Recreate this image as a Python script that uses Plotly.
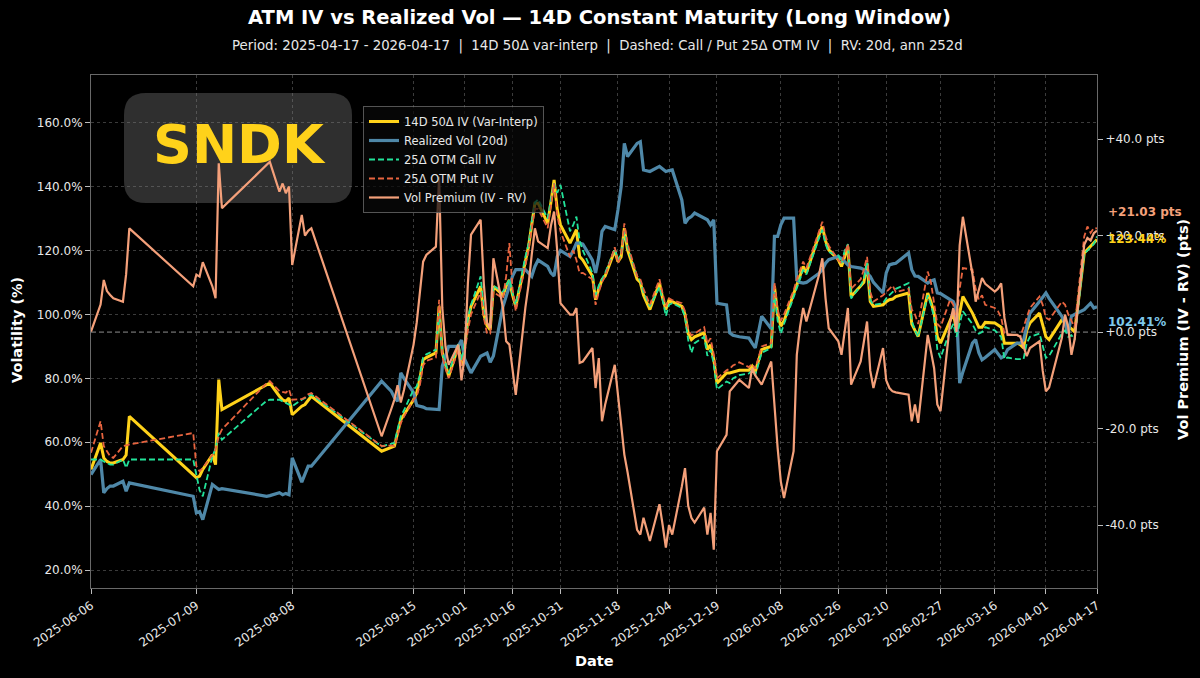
import plotly.graph_objects as go

# ---------------- data ----------------
dates = [
    "2025-06-06", "2025-06-09", "2025-06-10", "2025-06-11", "2025-06-12", "2025-06-13",
    "2025-06-16", "2025-06-17", "2025-06-18", "2025-07-08", "2025-07-09", "2025-07-10",
    "2025-07-11", "2025-07-14", "2025-07-15", "2025-07-16", "2025-07-17", "2025-07-31",
    "2025-08-01", "2025-08-04", "2025-08-05", "2025-08-06", "2025-08-07", "2025-08-08",
    "2025-08-11", "2025-08-12", "2025-08-13", "2025-08-14", "2025-09-05", "2025-09-08",
    "2025-09-09", "2025-09-10", "2025-09-11", "2025-09-12", "2025-09-15",
    "2025-09-16", "2025-09-17", "2025-09-18", "2025-09-19", "2025-09-22", "2025-09-23",
    "2025-09-24", "2025-09-25", "2025-09-26", "2025-09-29", "2025-09-30",
    "2025-10-01", "2025-10-02", "2025-10-03", "2025-10-06", "2025-10-07", "2025-10-08",
    "2025-10-09", "2025-10-10", "2025-10-13", "2025-10-14", "2025-10-15", "2025-10-16",
    "2025-10-17", "2025-10-20", "2025-10-21", "2025-10-22", "2025-10-23", "2025-10-24",
    "2025-10-27", "2025-10-28", "2025-10-29", "2025-10-30", "2025-10-31",
    "2025-11-03", "2025-11-04", "2025-11-05", "2025-11-06", "2025-11-07", "2025-11-10",
    "2025-11-11", "2025-11-12", "2025-11-13", "2025-11-14", "2025-11-17", "2025-11-18",
    "2025-11-19", "2025-11-20", "2025-11-21", "2025-11-24", "2025-11-25", "2025-11-26",
    "2025-11-28",
    "2025-12-01", "2025-12-02", "2025-12-03", "2025-12-04", "2025-12-05", "2025-12-08",
    "2025-12-09", "2025-12-10", "2025-12-11", "2025-12-12", "2025-12-15", "2025-12-16",
    "2025-12-17", "2025-12-18", "2025-12-19", "2025-12-22", "2025-12-23", "2025-12-24",
    "2025-12-26", "2025-12-29", "2025-12-30", "2025-12-31",
    "2026-01-02", "2026-01-05", "2026-01-06", "2026-01-07", "2026-01-08", "2026-01-09",
    "2026-01-12", "2026-01-13", "2026-01-14", "2026-01-15", "2026-01-16", "2026-01-20",
    "2026-01-21", "2026-01-22", "2026-01-23", "2026-01-26", "2026-01-27", "2026-01-28",
    "2026-01-29", "2026-01-30",
    "2026-02-02", "2026-02-03", "2026-02-04", "2026-02-05", "2026-02-06", "2026-02-09",
    "2026-02-10", "2026-02-11", "2026-02-12", "2026-02-13", "2026-02-17", "2026-02-18",
    "2026-02-19", "2026-02-20", "2026-02-23", "2026-02-24", "2026-02-25", "2026-02-26",
    "2026-02-27",
    "2026-03-02", "2026-03-03", "2026-03-04", "2026-03-05", "2026-03-06", "2026-03-09",
    "2026-03-10", "2026-03-11", "2026-03-12", "2026-03-13", "2026-03-16", "2026-03-17",
    "2026-03-18", "2026-03-19", "2026-03-20", "2026-03-23", "2026-03-24", "2026-03-25",
    "2026-03-26", "2026-03-27", "2026-03-30", "2026-03-31",
    "2026-04-01", "2026-04-02", "2026-04-06", "2026-04-07", "2026-04-08", "2026-04-09",
    "2026-04-10", "2026-04-13", "2026-04-14", "2026-04-15", "2026-04-16", "2026-04-17",
]

iv_atm = [
    51.5, 59.8, 55.1, 54.0, 53.5, 53.5, 54.6, 56.0, 68.1, 50.0, 48.9, 49.4,
    51.5, 56.1, 53.0, 79.6, 70.2, 78.0, 78.5, 74.4, 73.3, 72.8, 73.8, 68.6,
    71.3, 71.8, 73.3, 74.4, 57.2, 58.3, 58.8, 62.9, 67.1, 68.6, 73.3,
    75.5, 80.0, 85.8, 86.5, 88.0, 102.5, 88.0, 84.0, 80.6, 90.0, 84.0,
    90.0, 98.0, 102.5, 108.8, 100.0, 96.5, 95.2, 108.8, 106.0, 108.8, 110.8, 106.0,
    102.5, 117.0, 121.2, 128.0, 134.8, 134.8, 128.5, 135.0, 142.1, 132.7, 128.0,
    122.3, 124.5, 126.5, 118.1, 117.0, 112.0, 104.6, 108.0, 110.8, 112.0, 120.0, 116.5,
    118.0, 127.0, 120.2, 111.0, 110.0, 106.0, 101.5,
    109.8, 105.0, 101.5, 104.6, 104.0, 102.5, 100.0, 94.0, 92.1, 93.0, 94.2, 89.0,
    90.5, 86.0, 78.5, 81.7, 81.7, 82.0, 82.5, 82.5, 83.8, 82.0,
    89.0, 90.0, 108.8, 100.0, 96.3, 98.0, 106.0, 108.8, 112.0, 115.0, 113.0, 125.0,
    127.5, 123.0, 120.2, 117.1, 115.0, 118.0, 121.2, 105.6,
    108.8, 110.0, 116.0, 104.0, 102.5, 103.0, 104.0, 104.6, 104.8, 105.6, 106.7, 97.0,
    95.0, 93.1, 106.7, 104.0, 100.4, 93.0, 91.0,
    98.0, 100.4, 95.2, 100.0, 105.6, 100.4, 98.0, 96.0, 96.0, 97.5, 97.3, 96.5,
    96.0, 91.0, 91.0, 91.0, 90.5, 89.5, 95.0, 97.3, 100.4, 97.0,
    93.0, 92.1, 98.3, 97.5, 96.3, 95.5, 94.5, 119.2, 120.2, 121.5, 122.5, 123.44,
]

rv_20d = [
    49.9, 54.6, 44.2, 45.5, 46.3, 46.3, 47.8, 44.7, 47.3, 43.1, 37.9, 38.3,
    35.8, 46.8, 46.0, 45.2, 45.5, 43.1, 43.3, 44.2, 43.6, 44.0, 43.6, 55.1,
    47.5, 50.0, 52.5, 52.5, 79.1, 76.0, 74.0, 72.8, 81.7, 80.0, 75.5,
    71.5, 71.3, 71.0, 70.5, 70.2, 70.2, 83.8, 87.0, 90.0, 90.0, 92.0,
    86.0, 83.8, 81.7, 86.9, 87.5, 87.9, 85.0, 87.0, 102.5, 106.0, 108.8, 112.0,
    114.0, 114.0, 113.0, 111.9, 115.0, 117.0, 115.0, 113.0, 112.0, 118.1, 120.0,
    118.1, 120.0, 122.3, 122.3, 122.0, 117.0, 113.0, 118.0, 126.0, 127.5, 126.5, 132.7,
    140.0, 153.5, 149.4, 153.5, 154.0, 145.2, 144.7,
    146.3, 145.5, 144.7, 145.0, 145.2, 135.8, 128.5, 130.0, 130.6, 131.7, 130.0, 129.6,
    128.0, 129.6, 103.5, 103.0, 94.2, 93.5, 93.0, 92.6, 91.0, 89.5,
    99.4, 95.5, 124.4, 124.4, 128.0, 130.1, 130.1, 110.8, 110.0, 109.8, 110.0, 112.9,
    114.0, 116.0, 117.1, 118.1, 117.5, 116.5, 115.5, 115.0,
    114.5, 114.0, 113.0, 111.9, 110.0, 106.7, 113.0, 115.5, 115.8, 116.0, 119.2, 114.0,
    112.0, 111.9, 109.8, 110.5, 110.8, 106.7, 106.5,
    104.8, 104.0, 101.5, 78.5, 82.0, 91.0, 92.1, 88.0, 85.8, 86.5, 89.0, 87.5,
    86.4, 87.0, 89.0, 91.0, 91.0, 92.0, 96.0, 100.4, 104.0, 105.5,
    106.7, 105.0, 99.4, 97.0, 94.2, 99.4, 100.0, 101.5, 102.5, 103.5, 102.0, 102.41,
]

call_25d = [
    54.6, 54.6, 54.0, 53.5, 53.0, 53.0, 54.6, 52.0, 54.6, 54.6, 49.4, 45.0,
    43.1, 55.6, 58.0, 62.9, 60.8, 73.0, 73.3, 73.3, 72.8, 72.3, 72.0, 71.3,
    73.3, 73.8, 74.4, 74.9, 58.7, 59.4, 59.8, 64.0, 68.1, 70.0, 76.5,
    77.5, 81.0, 86.5, 87.5, 89.0, 100.4, 88.0, 84.5, 81.5, 91.0, 85.5,
    91.0, 98.5, 103.0, 111.9, 101.0, 97.0, 96.0, 109.0, 107.0, 109.0, 111.0, 106.5,
    103.0, 118.0, 122.0, 129.0, 135.0, 136.0, 130.0, 136.0, 141.0, 138.0, 140.5,
    126.0, 128.0, 130.6, 123.0, 120.0, 113.0, 106.0, 109.0, 111.0, 113.0, 120.5, 117.0,
    119.0, 126.0, 121.0, 112.0, 110.5, 107.0, 102.5,
    108.5, 104.5, 99.5, 103.0, 103.5, 102.0, 99.0, 92.0, 88.0, 91.0, 93.0, 87.0,
    89.0, 84.5, 76.5, 79.0, 78.5, 80.0, 81.0, 81.5, 82.5, 81.0,
    88.0, 89.5, 107.0, 98.0, 94.0, 97.0, 105.0, 108.0, 111.0, 114.0, 112.5, 124.0,
    126.5, 122.0, 119.5, 118.5, 116.0, 120.0, 122.0, 105.0,
    109.0, 111.0, 116.5, 104.5, 103.0, 103.5, 105.0, 106.0, 107.0, 108.0, 109.8, 98.0,
    95.0, 93.0, 106.0, 103.0, 99.0, 89.0, 86.4,
    95.0, 97.0, 93.0, 97.0, 101.0, 97.0, 95.0, 94.0, 94.5, 96.0, 95.0, 94.0,
    93.0, 86.0, 86.5, 86.0, 86.0, 86.0, 91.0, 93.0, 94.0, 90.0,
    86.4, 87.0, 94.0, 95.0, 93.0, 93.5, 92.0, 119.0, 120.0, 121.0, 122.0, 124.4,
]

put_25d = [
    56.7, 66.6, 58.8, 57.0, 55.6, 55.1, 58.8, 59.0, 59.3, 62.9, 52.5, 50.9,
    52.0, 56.0, 57.7, 61.9, 64.0, 78.5, 79.1, 76.0, 75.8, 75.5, 76.5, 73.3,
    73.5, 74.0, 75.0, 75.4, 58.8, 59.0, 58.8, 62.0, 66.0, 68.0, 73.3,
    74.5, 78.0, 84.0, 85.5, 86.5, 104.6, 87.0, 83.0, 80.0, 89.0, 84.0,
    88.0, 95.0, 100.0, 107.0, 99.0, 94.0, 94.0, 107.0, 105.0, 112.0, 122.3, 108.0,
    101.0, 116.0, 120.0, 127.0, 133.0, 133.0, 127.0, 134.0, 141.0, 131.0, 126.0,
    118.0, 120.0, 117.0, 112.9, 113.0, 111.0, 103.0, 107.0, 110.0, 112.0, 121.0, 116.0,
    118.5, 128.5, 122.0, 112.0, 111.0, 108.0, 103.0,
    111.0, 106.5, 102.5, 105.0, 104.5, 103.5, 101.0, 95.0, 93.5, 94.0, 96.0, 91.0,
    92.5, 87.5, 80.0, 82.5, 83.0, 84.0, 85.0, 83.5, 84.5, 83.0,
    90.0, 91.0, 110.0, 101.5, 98.0, 100.0, 107.5, 111.0, 114.0, 116.5, 114.5, 126.0,
    129.0, 124.5, 121.5, 117.0, 116.0, 119.0, 122.0, 108.0,
    111.0, 114.0, 118.0, 107.0, 104.0, 106.0, 107.0, 108.0, 109.0, 107.0, 108.0, 101.5,
    100.0, 97.0, 113.4, 110.0, 104.0, 97.0, 96.0,
    104.6, 103.0, 98.0, 108.0, 114.5, 114.0, 108.0, 104.6, 106.0, 103.0, 102.0, 101.0,
    99.0, 94.0, 93.8, 93.5, 93.0, 96.0, 99.0, 102.0, 105.6, 103.0,
    99.0, 98.3, 104.0, 103.0, 100.0, 98.0, 96.0, 124.4, 127.5, 125.5, 127.0, 126.9,
]

vol_premium = [
    0.1, 5.7, 10.8, 8.5, 7.7, 7.0, 6.3, 12.0, 21.5, 9.5, 11.9, 11.5,
    14.5, 9.5, 7.0, 35.0, 25.7, 34.5, 35.3, 29.1, 30.8, 28.8, 30.2, 13.9,
    24.3, 20.0, 21.0, 21.5, -21.6, -16.0, -14.0, -11.0, -14.6, -12.0, -2.6,
    2.0, 9.0, 14.6, 16.0, 17.7, 32.2, 5.0, -3.0, -6.8, -2.6, -10.0,
    -5.0, 10.0, 20.2, 23.3, 10.0, 2.0, 0.8, 15.3, 5.0, -1.9, -2.6, -8.0,
    -13.0, 5.0, 9.8, 16.0, 21.5, 18.8, 17.4, 22.0, 25.0, 16.7, 6.0,
    3.6, 3.6, 5.0, -6.4, -6.1, -3.3, -11.6, -5.4, -18.5, -15.0, -6.8, -13.0,
    -17.8, -25.4, -29.0, -41.0, -42.0, -38.5, -43.3,
    -35.7, -40.0, -44.7, -40.0, -42.0, -32.0, -28.2, -36.0, -38.5, -39.5, -36.4, -42.0,
    -37.5, -45.1, -24.7, -21.3, -12.3, -11.5, -9.9, -11.6, -7.5, -9.0,
    -10.9, -6.1, -16.0, -24.0, -31.0, -34.4, -24.7, -4.7, 1.0, 5.0, 2.2, 12.0,
    15.3, 7.0, 0.8, -1.9, -4.7, 0.0, 5.0, -10.9,
    -6.1, -2.0, 2.2, -8.0, -11.6, -3.3, -10.0, -11.6, -12.3, -12.5, -13.0, -18.5,
    -15.0, -18.8, -0.6, -4.0, -7.5, -15.0, -16.4,
    2.0, 5.0, 0.0, 18.0, 23.9, 12.0, 6.3, 8.5, 11.2, 10.0, 8.4, 9.0,
    10.1, 3.0, -0.6, -0.6, -1.0, -3.0, -5.0, -3.3, -1.9, -8.0,
    -12.3, -11.5, -1.2, 3.6, 1.0, -4.7, -1.5, 18.1, 19.5, 19.0, 20.5, 21.03,
]

tick_dates = [
    "2025-06-06", "2025-07-09", "2025-08-08", "2025-09-15", "2025-10-01", "2025-10-16",
    "2025-10-31", "2025-11-18", "2025-12-04", "2025-12-19", "2026-01-08", "2026-01-26",
    "2026-02-10", "2026-02-27", "2026-03-16", "2026-04-01", "2026-04-17",
]
vol_ticks = [20, 40, 60, 80, 100, 120, 140, 160]
prem_ticks = [-40, -20, 0, 20, 40]
vol_tick_text = [f"{v:.1f}%" for v in vol_ticks]
prem_tick_text = [f"{v:+.1f} pts" for v in prem_ticks]

ticker = "SNDK"
title_text = "ATM IV vs Realized Vol — 14D Constant Maturity (Long Window)"
subtitle_text = ("Period: 2025-04-17 - 2026-04-17  |  14D 50Δ var-interp  |  "
                 "Dashed: Call / Put 25Δ OTM IV  |  RV: 20d, ann 252d")

# ---------------- layout geometry ----------------
W, H = 1200, 678
L, R, T, B = 91, 1097, 75, 588
FONT = "DejaVu Sans"


def px(xp):
    return (xp - L) / (R - L)


def py(yp):
    return (B - yp) / (B - T)


C_IV = "#FFD21A"
C_RV = "#4F88A8"
C_CALL = "#22E39A"
C_PUT = "#E8643F"
C_PREM = "#F4A07A"
GRID = "rgba(130,130,130,0.45)"
SPINE = "rgba(150,150,150,0.7)"
TXT = "#E8E8E8"

fig = go.Figure()
fig.add_trace(go.Scatter(x=dates, y=iv_atm, name="14D 50Δ IV (Var-Interp)", mode="lines",
                         line=dict(color=C_IV, width=3)))
fig.add_trace(go.Scatter(x=dates, y=rv_20d, name="Realized Vol (20d)", mode="lines",
                         line=dict(color=C_RV, width=3.2)))
fig.add_trace(go.Scatter(x=dates, y=call_25d, name="25Δ OTM Call IV", mode="lines",
                         line=dict(color=C_CALL, width=1.8, dash="6px,3px")))
fig.add_trace(go.Scatter(x=dates, y=put_25d, name="25Δ OTM Put IV", mode="lines",
                         line=dict(color=C_PUT, width=1.8, dash="6px,3px")))
fig.add_trace(go.Scatter(x=dates, y=vol_premium, name="Vol Premium (IV - RV)", mode="lines",
                         line=dict(color=C_PREM, width=2.2), yaxis="y2"))

# rounded box for ticker
x0, x1, y0, y1 = px(124), px(352), py(203), py(93)
rx, ry = 22 / (R - L), 22 / (B - T)
box_path = (f"M {x0+rx},{y1} L {x1-rx},{y1} Q {x1},{y1} {x1},{y1-ry} "
            f"L {x1},{y0+ry} Q {x1},{y0} {x1-rx},{y0} L {x0+rx},{y0} "
            f"Q {x0},{y0} {x0},{y0+ry} L {x0},{y1-ry} Q {x0},{y1} {x0+rx},{y1} Z")

shapes = [
    dict(type="path", path=box_path, xref="paper", yref="paper",
         fillcolor="#2f2f2f", line=dict(width=0), layer="between"),
    dict(type="line", xref="paper", x0=0, x1=1, yref="y2", y0=0, y1=0,
         line=dict(color="rgba(190,190,190,0.75)", width=1, dash="5px,3px"), layer="below"),
]

annotations = [
    dict(text=f"<b>{title_text}</b>", x=px(599), y=py(18), xref="paper", yref="paper",
         showarrow=False, font=dict(family=FONT, size=19.5, color="white"),
         xanchor="center", yanchor="middle"),
    dict(text=subtitle_text, x=px(597), y=py(46), xref="paper", yref="paper",
         showarrow=False, font=dict(family=FONT, size=13.3, color=TXT),
         xanchor="center", yanchor="middle"),
    dict(text=f"<b>{ticker}</b>", x=px(239), y=py(144), xref="paper", yref="paper",
         showarrow=False, font=dict(family=FONT, size=54, color="#FFD21A"),
         xanchor="center", yanchor="middle"),
    dict(text="<b>Volatility (%)</b>", x=px(17), y=py(330), xref="paper", yref="paper",
         showarrow=False, textangle=-90, font=dict(family=FONT, size=14.5, color="white"),
         xanchor="center", yanchor="middle"),
    dict(text="<b>Vol Premium (IV - RV) (pts)</b>", x=px(1183), y=py(330), xref="paper",
         yref="paper", showarrow=False, textangle=-90,
         font=dict(family=FONT, size=14.5, color="white"), xanchor="center", yanchor="middle"),
    dict(text="<b>Date</b>", x=px(594), y=py(661), xref="paper", yref="paper",
         showarrow=False, font=dict(family=FONT, size=14.5, color="white"),
         xanchor="center", yanchor="middle"),
    dict(text=f"<b>{vol_premium[-1]:+.2f} pts</b>", x=px(1106), y=py(212), xref="paper",
         yref="paper", showarrow=False, font=dict(family=FONT, size=12, color=C_PREM),
         xanchor="left", yanchor="middle"),
    dict(text=f"<b>{iv_atm[-1]:.2f}%</b>", x=px(1106), y=py(239), xref="paper",
         yref="paper", showarrow=False, font=dict(family=FONT, size=12, color="#FFD21A"),
         xanchor="left", yanchor="middle"),
    dict(text=f"<b>{rv_20d[-1]:.2f}%</b>", x=px(1106), y=py(322), xref="paper",
         yref="paper", showarrow=False, font=dict(family=FONT, size=12, color="#7EC8EA"),
         xanchor="left", yanchor="middle"),
]

fig.update_layout(
    width=W, height=H, autosize=False,
    margin=dict(l=L, r=W - R, t=T, b=H - B),
    paper_bgcolor="black", plot_bgcolor="black",
    font=dict(family=FONT, size=12, color=TXT),
    showlegend=True,
    legend=dict(x=px(363), y=py(106), xanchor="left", yanchor="top",
                bgcolor="rgba(8,8,8,0.72)", bordercolor="rgba(120,120,120,0.7)",
                borderwidth=1, font=dict(family=FONT, size=11.5, color=TXT),
                tracegroupgap=0, itemwidth=30),
    xaxis=dict(type="date", range=["2025-06-06", "2026-04-17"],
               tickmode="array", tickvals=tick_dates, ticktext=tick_dates, tickangle=-35,
               tickfont=dict(family=FONT, size=12, color=TXT),
               showgrid=True, gridcolor=GRID, griddash="3px,3px", gridwidth=0.8,
               ticks="outside", ticklen=5, tickcolor="#BBBBBB", tickwidth=1,
               showline=True, linecolor=SPINE, linewidth=1, mirror=True,
               zeroline=False, automargin=False),
    yaxis=dict(range=[14.4, 174.9], tickmode="array", tickvals=vol_ticks,
               ticktext=vol_tick_text,
               tickfont=dict(family=FONT, size=12, color=TXT),
               showgrid=True, gridcolor=GRID, griddash="3px,3px", gridwidth=0.8,
               ticks="outside", ticklen=5, tickcolor="#BBBBBB", tickwidth=1,
               showline=True, linecolor=SPINE, linewidth=1,
               zeroline=False, automargin=False),
    yaxis2=dict(range=[-53.06, 53.3], tickmode="array", tickvals=prem_ticks,
                ticktext=prem_tick_text, overlaying="y", side="right",
                tickfont=dict(family=FONT, size=12, color=TXT),
                showgrid=False, ticks="outside", ticklen=5, tickcolor="#BBBBBB",
                tickwidth=1, showline=True, linecolor=SPINE, linewidth=1,
                zeroline=False, automargin=False),
    shapes=shapes,
    annotations=annotations,
)

fig.write_html("out.html")
